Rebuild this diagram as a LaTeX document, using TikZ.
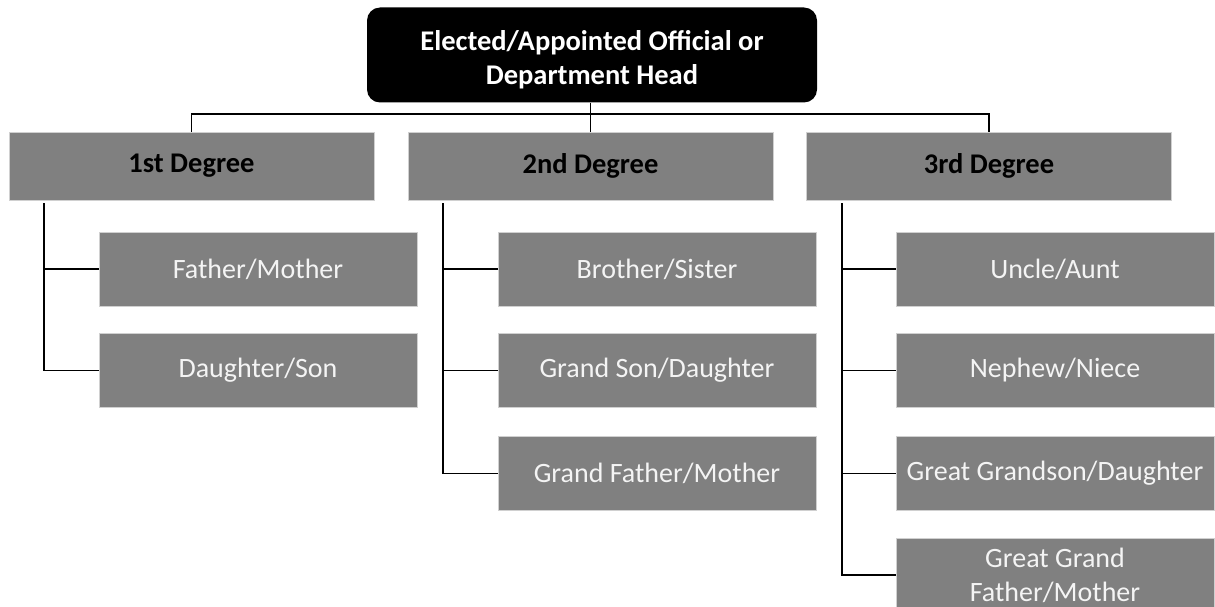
\documentclass[tikz,border=0pt]{standalone}
\usepackage{fontspec}
\setmainfont{Carlito}
\definecolor{boxgray}{HTML}{808080}
\definecolor{boxedge}{HTML}{D0D0D0}
\definecolor{reltext}{HTML}{F4F4F4}
\begin{document}
\begin{tikzpicture}[x=1pt,y=-1pt,
  conn/.style={draw=black,line width=1.9pt},
  headbox/.style={rectangle, rounded corners=13pt, fill=black,
    minimum width=450pt, minimum height=95pt, inner sep=0pt},
  headtext/.style={text=white, font=\fontsize{28.5}{34}\selectfont\bfseries,
    align=center, inner sep=0pt},
  degbox/.style={rectangle, fill=boxgray, draw=boxedge, line width=0.8pt,
    minimum width=365pt, minimum height=68pt, inner sep=0pt,
    font=\fontsize{28.5}{34}\selectfont\bfseries, text=black},
  relbox/.style={rectangle, fill=boxgray, draw=boxedge, line width=0.8pt,
    minimum width=318pt, minimum height=74pt, inner sep=0pt,
    font=\fontsize{28}{34}\selectfont, text=reltext, align=center},
]
\useasboundingbox (0,0) rectangle (1215,607);

\node[headbox, label={[headtext, yshift=-5pt]center:{Elected/Appointed Official or\\Department Head}}] (head) at (592,55) {};

\node[degbox] (d1) at (191.5,166) {1st Degree};
\node[degbox] (d2) at (590.5,166) {2nd Degree};
\node[degbox] (d3) at (989,166) {3rd Degree};

\node[relbox] (r11) at (258,269) {Father/Mother};
\node[relbox] (r12) at (258,370.5) {Daughter/Son};

\node[relbox] (r21) at (657,269) {Brother/Sister};
\node[relbox] (r22) at (657,370.5) {Grand Son/Daughter};
\node[relbox] (r23) at (657,473.5) {Grand Father/Mother};

\node[relbox] (r31) at (1055,269) {Uncle/Aunt};
\node[relbox] (r32) at (1055,370.5) {Nephew/Niece};
\node[relbox] (r33) at (1055,473.5) {Great Grandson/Daughter};
\node[relbox] (r34) at (1055,575) {Great Grand\\Father/Mother};

% top bus
\coordinate (bus) at (0,114);
\draw[conn] (head.south -| d2.north) -- (d2.north);
\draw[conn] (d1.north) -- (d1.north |- bus) -- (d3.north |- bus) -- (d3.north);

% column trunks
\coordinate (t1) at (44,203);
\coordinate (t2) at (443,203);
\coordinate (t3) at (842,203);

\draw[conn] (t1) |- (r12.west);
\draw[conn] (t1 |- r11.west) -- (r11.west);

\draw[conn] (t2) |- (r23.west);
\draw[conn] (t2 |- r21.west) -- (r21.west);
\draw[conn] (t2 |- r22.west) -- (r22.west);

\draw[conn] (t3) |- (r34.west);
\draw[conn] (t3 |- r31.west) -- (r31.west);
\draw[conn] (t3 |- r32.west) -- (r32.west);
\draw[conn] (t3 |- r33.west) -- (r33.west);
\end{tikzpicture}
\end{document}
